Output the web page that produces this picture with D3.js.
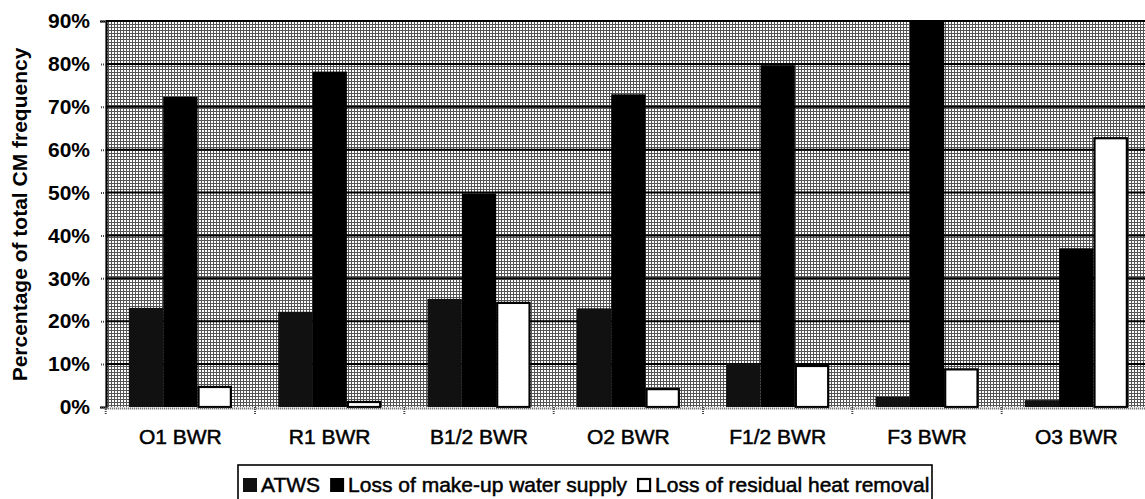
<!DOCTYPE html>
<html>
<head>
<meta charset="utf-8">
<script src="https://cdn.jsdelivr.net/npm/d3@7"></script>
<style>
  html, body { margin: 0; padding: 0; background: #fff; }
  svg { display: block; font-family: "Liberation Sans", Arial, sans-serif; }
</style>
</head>
<body>
<script>
// categories and series
const categories = ["O1 BWR", "R1 BWR", "B1/2 BWR", "O2 BWR", "F1/2 BWR", "F3 BWR", "O3 BWR"];
const seriesNames = ["ATWS", "Loss of make-up water supply", "Loss of residual heat removal"];
// values in percent
const atws = [23.1, 22.2, 25.2, 23.0, 10.2, 2.4, 1.6];
const makeup = [72.3, 78.2, 49.8, 72.9, 79.7, 90.0, 37.0];
const residual = [4.9, 1.4, 24.5, 4.4, 9.8, 9.0, 62.9];
const yTicks = [0, 10, 20, 30, 40, 50, 60, 70, 80, 90];

const W = 1145, H = 499;
const fills = ["#111", "#000", "#fff"];

const svg = d3.select("body").append("svg")
    .attr("width", W)
    .attr("height", H);

// dithered grey background of the plot area
const defs = svg.append("defs");
const pat = defs.append("pattern")
    .attr("id", "dither")
    .attr("patternUnits", "userSpaceOnUse")
    .attr("width", 3).attr("height", 3);
pat.append("rect").attr("width", 3).attr("height", 3).attr("fill", "#fff");
pat.append("rect").attr("width", 3).attr("height", 1).attr("fill", "#555");
pat.append("rect").attr("width", 1).attr("height", 3).attr("fill", "#555");

const x0 = d3.scaleBand()
    .domain(categories)
    .range([105.7, 1151])
    .paddingInner(0.31)
    .paddingOuter(0.155);

const x1 = d3.scaleBand()
    .domain(seriesNames)
    .range([0, x0.bandwidth()]);

const y = d3.scaleLinear()
    .domain([0, 90])
    .range([407, 21]);

const rows = categories.map((c, i) => ({
    cat: c,
    vals: [atws[i], makeup[i], residual[i]]
}));

// plot background
svg.append("rect")
    .attr("x", 106).attr("y", y(90))
    .attr("width", 1151 - 106).attr("height", y(0) - y(90))
    .attr("fill", "url(#dither)");

// gridlines
svg.append("g")
    .selectAll("line")
    .data(yTicks.filter(d => d > 0))
    .join("line")
    .attr("x1", 106).attr("x2", 1151)
    .attr("y1", d => y(d)).attr("y2", d => y(d))
    .attr("stroke", "#000")
    .attr("stroke-width", 2);

// bars
const groups = svg.append("g")
    .selectAll("g")
    .data(rows)
    .join("g")
    .attr("transform", d => `translate(${x0(d.cat)},0)`);

groups.selectAll("rect")
    .data(d => d.vals.map((v, k) => ({ key: seriesNames[k], v, k })))
    .join("rect")
    .attr("x", d => x1(d.key) + (d.k === 2 ? 1 : 0))
    .attr("y", d => y(d.v) + (d.k === 2 ? 1 : 0))
    .attr("width", d => x1.bandwidth() - (d.k === 2 ? 2 : 0))
    .attr("height", d => y(0) - y(d.v) - (d.k === 2 ? 1 : 0))
    .attr("fill", d => fills[d.k])
    .attr("stroke", d => d.k === 2 ? "#000" : "none")
    .attr("stroke-width", 2.2);

// y axis
const yAxis = svg.append("g")
    .attr("transform", "translate(106,0)")
    .call(d3.axisLeft(y).tickValues(yTicks).tickFormat(d => d + "%").tickSize(6).tickPadding(10));
yAxis.select(".domain").attr("stroke", "#000").attr("stroke-width", 2.2);
yAxis.selectAll(".tick line")
    .attr("stroke", "#444")
    .attr("stroke-width", 2)
    .attr("stroke-dasharray", "1,1");
yAxis.selectAll(".tick text")
    .attr("fill", "#000")
    .attr("font-size", 21)
    .attr("font-weight", "bold")
    .attr("font-family", "Liberation Sans, Arial, sans-serif");

// x axis: dotted baseline + ticks at category boundaries
const xAxis = svg.append("g")
    .attr("transform", `translate(0,${y(0) + 1})`)
    .call(d3.axisBottom(x0).tickSize(0).tickPadding(21));
xAxis.select(".domain")
    .attr("stroke", "#555")
    .attr("stroke-width", 2)
    .attr("stroke-dasharray", "1,1");
xAxis.selectAll(".tick text")
    .attr("fill", "#000")
    .attr("font-size", 21)
    .attr("stroke", "#000")
    .attr("stroke-width", 0.5)
    .attr("font-family", "Liberation Sans, Arial, sans-serif");

const step = x0.step();
svg.append("g")
    .selectAll("line")
    .data(categories)
    .join("line")
    .attr("x1", d => x0(d) - x0.paddingOuter() * step)
    .attr("x2", d => x0(d) - x0.paddingOuter() * step)
    .attr("y1", y(0)).attr("y2", y(0) + 7)
    .attr("stroke", "#444")
    .attr("stroke-width", 2)
    .attr("stroke-dasharray", "1,1");

// y axis title
svg.append("text")
    .attr("transform", "translate(27,214.5) rotate(-90)")
    .attr("text-anchor", "middle")
    .attr("font-size", 21)
    .attr("font-weight", "bold")
    .text("Percentage of total CM frequency");

// legend
const legend = svg.append("g");
legend.append("rect")
    .attr("x", 238).attr("y", 465)
    .attr("width", 932 - 238).attr("height", 50)
    .attr("fill", "#fff")
    .attr("stroke", "#000")
    .attr("stroke-width", 1.6);

let lx = 243;
seriesNames.forEach((name, k) => {
    legend.append("rect")
        .attr("x", lx + (k === 2 ? 1 : 0)).attr("y", 478 + (k === 2 ? 1 : 0))
        .attr("width", k === 2 ? 12 : 14).attr("height", k === 2 ? 12 : 14)
        .attr("fill", fills[k])
        .attr("stroke", k === 2 ? "#000" : "none")
        .attr("stroke-width", 2.2);
    const t = legend.append("text")
        .attr("x", lx + 18).attr("y", 492)
        .attr("font-size", 21)
        .attr("stroke", "#000")
        .attr("stroke-width", 0.5)
        .text(name);
    lx += 18 + t.node().getComputedTextLength() + 10;
});
</script>
</body>
</html>
